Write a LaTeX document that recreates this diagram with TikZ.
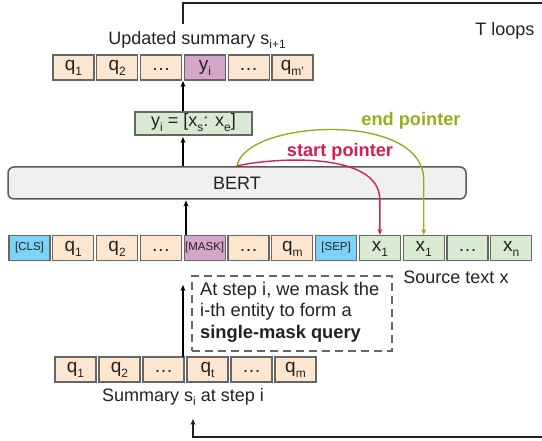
\documentclass[tikz,border=0pt]{standalone}
\usepackage{fontspec}
\setmainfont{Liberation Sans}
\usetikzlibrary{arrows.meta,calc}
\definecolor{peach}{RGB}{253,230,207}
\definecolor{lilac}{RGB}{213,166,200}
\definecolor{skyb}{RGB}{125,211,245}
\definecolor{leaf}{RGB}{217,234,211}
\definecolor{edge}{RGB}{102,102,102}
\definecolor{ink}{RGB}{34,34,34}
\definecolor{crim}{RGB}{216,31,75}
\definecolor{olive}{RGB}{155,171,31}
\newcommand{\lowsub}[1]{\raisebox{-0.45ex}{\fontsize{12}{12}\selectfont #1}}
\tikzset{
  tok/.style={draw=edge, line width=1.2pt, minimum width=41pt, minimum height=25pt, inner sep=0pt, text height=10pt, text depth=3pt, font=\fontsize{19}{19}\selectfont, text=ink},
  qb/.style={tok, fill=peach},
  mb/.style={tok, fill=lilac},
  sbx/.style={tok, fill=skyb},
  xb/.style={tok, fill=leaf},
  small/.style={font=\fontsize{11.5}{11.5}\selectfont, text height=8pt, text depth=2.5pt},
  lbl/.style={font=\fontsize{18}{21.5}\selectfont, text=ink},
  arr/.style={-{Stealth[length=6pt,width=5pt]}, line width=1.3pt, draw=black},
  loopline/.style={line width=1.5pt, draw=ink},
  ptr/.style={line width=1.4pt, -{Stealth[length=6pt,width=5pt]}},
  ptrlbl/.style={font=\bfseries\fontsize{18.2}{18}\selectfont}
}
\begin{document}
\begin{tikzpicture}[x=1pt,y=-1pt]
\useasboundingbox (0,0) rectangle (542,441);
% top row
\node[qb] (t1) at (73.5,67.5) {q\lowsub{1}};
\node[qb] (t2) at (117.3,67.5) {q\lowsub{2}};
\node[qb] (t3) at (161.1,67.5) {\dots};
\node[mb] (t4) at (204.9,67.5) {y\lowsub{i}};
\node[qb] (t5) at (248.7,67.5) {\dots};
\node[qb] (t6) at (292.5,67.5) {q\lowsub{m'}};
\node[lbl] (upd) at (197,40) {Updated summary s\lowsub{i+1}};
\node[lbl] (tl) at (505,31) {T loops};
% y box
\node[xb, minimum width=117pt, minimum height=23pt, font=\fontsize{18}{18}\selectfont] (yb) at (193.5,123.5) {y\lowsub{i} = [x\lowsub{s}: x\lowsub{e}]};
% BERT
\node[draw=black!65, fill=black!6, line width=1.5pt, rounded corners=6pt, minimum width=458pt, minimum height=32pt, inner sep=0pt, font=\fontsize{18}{18}\selectfont, text=ink] (bert) at (237,183) {BERT};
% middle row
\node[sbx, small] (m1) at (29.5,248) {[CLS]};
\node[qb] (m2) at (73.3,248) {q\lowsub{1}};
\node[qb] (m3) at (117.1,248) {q\lowsub{2}};
\node[qb] (m4) at (160.9,248) {\dots};
\node[mb, small] (m5) at (204.7,248) {[MASK]};
\node[qb] (m6) at (248.5,248) {\dots};
\node[qb] (m7) at (292.3,248) {q\lowsub{m}};
\node[sbx, small] (m8) at (336.1,248) {[SEP]};
\node[xb] (m9) at (379.9,248) {x\lowsub{1}};
\node[xb] (m10) at (423.7,248) {x\lowsub{1}};
\node[xb] (m11) at (467.5,248) {\dots};
\node[xb] (m12) at (511.3,248) {x\lowsub{n}};
\node[lbl] (src) at (456,277) {Source text x};
% dashed note
\node[draw=edge, dashed, dash pattern=on 8pt off 5pt, line width=1.4pt, minimum width=200pt, minimum height=75pt, inner sep=0pt] (note) at (292,313.5) {};
\node[lbl, anchor=north west, align=left, inner sep=0pt, font=\fontsize{18.3}{21.5}\selectfont] (notetxt) at (200,282) {At step i, we mask the\\i-th entity to form a\\\textbf{single-mask query}};
% bottom row
\node[qb] (b1) at (75.5,369.5) {q\lowsub{1}};
\node[qb] (b2) at (119.5,369.5) {q\lowsub{2}};
\node[qb] (b3) at (163.5,369.5) {\dots};
\node[qb] (b4) at (207.5,369.5) {q\lowsub{t}};
\node[qb] (b5) at (251.5,369.5) {\dots};
\node[qb] (b6) at (295.5,369.5) {q\lowsub{m}};
\node[lbl] (sum) at (183,397) {Summary s\lowsub{i} at step i};
% arrows
\coordinate (a1s) at (183,111.5);
\coordinate (a1e) at (183,81);
\draw[arr] (a1s) -- (a1e);
\coordinate (a2s) at (183,166.5);
\coordinate (a2e) at (183,137);
\draw[arr] (a2s) -- (a2e);
\coordinate (a3s) at (186,235.5);
\coordinate (a3e) at (186,200.5);
\draw[arr] (a3s) -- (a3e);
\coordinate (a4s) at (183,357);
\coordinate (a4e) at (183,285);
\draw[arr] (a4s) -- (a4e);
% loops
\coordinate (lt0) at (183,24);
\coordinate (lt1) at (183,3);
\coordinate (lt2) at (545,3);
\draw[loopline] (lt0) -- (lt1) -- (lt2);
\coordinate (lb0) at (545,437);
\coordinate (lb1) at (193,437);
\coordinate (lb2) at (193,419);
\draw[loopline, -{Stealth[length=6pt,width=5pt]}] (lb0) -- (lb1) -- (lb2);
% pointers
\coordinate (ps) at (237,166);
\draw[ptr, draw=olive] (ps) .. controls (245,120) and (423.7,110) .. (423.7,180) -- (m10.north);
\draw[ptr, draw=crim] (ps) .. controls (270,158) and (379.9,150) .. (379.9,200) -- (m9.north);
\node[ptrlbl, text=crim] (spl) at (340,152) {start pointer};
\node[ptrlbl, text=olive] (epl) at (411,121) {end pointer};
\end{tikzpicture}
\end{document}
